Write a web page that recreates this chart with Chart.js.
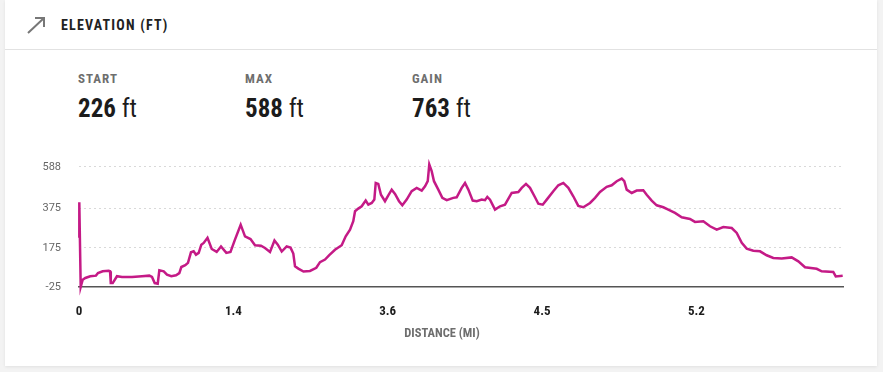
<!DOCTYPE html>
<html>
<head>
<meta charset="utf-8">
<script src="https://cdn.jsdelivr.net/npm/chart.js@4.4.1/dist/chart.umd.min.js"></script>
<style>
  body { margin: 0; background: #f3f3f3; font-family: "Roboto Condensed", "Liberation Sans Narrow", "DejaVu Sans Condensed", sans-serif; }
  .card { position: absolute; left: 5px; top: 0; width: 872px; height: 366px; background: #fff; box-shadow: 0 1px 3px rgba(0,0,0,0.08); }
  .head { position: absolute; left: 0; top: 0; width: 100%; height: 49px; border-bottom: 1px solid #e2e2e2; }
  .head svg { position: absolute; left: 21px; top: 16px; }
  .head h1 { position: absolute; left: 56px; top: 16px; margin: 0; font-size: 14px; font-weight: bold; letter-spacing: 1.2px; color: #222; line-height: 18px; }
  .stat { position: absolute; top: 71px; }
  .stat .lbl { font-size: 13px; font-weight: bold; letter-spacing: 1px; color: #6e6e6e; line-height: 16px; }
  .stat .val { margin-top: 8px; font-size: 25px; color: #1c1c1c; line-height: 28px; }
  .stat .val b { font-weight: bold; }
  .wrap { position: absolute; left: 12px; top: 137px; width: 850px; height: 208px; }
  .xtitle { position: absolute; left: 0; width: 874px; top: 325px; text-align: center; font-size: 12.5px; font-weight: bold; color: #6e6e6e; line-height: 16px; }
</style>
</head>
<body>
<div class="card">
  <div class="head">
    <svg width="20" height="19" viewBox="0 0 20 19"><path d="M2 17 L18 2 M9 2 L18 2 L18 11" fill="none" stroke="#777" stroke-width="2"/></svg>
    <h1>ELEVATION (FT)</h1>
  </div>
  <div class="stat" style="left:73px"><div class="lbl">START</div><div class="val"><b>226</b> ft</div></div>
  <div class="stat" style="left:240px"><div class="lbl">MAX</div><div class="val"><b>588</b> ft</div></div>
  <div class="stat" style="left:407px"><div class="lbl">GAIN</div><div class="val"><b>763</b> ft</div></div>
  <div class="wrap"><canvas id="elev"></canvas></div>
  <div class="xtitle">DISTANCE (MI)</div>
</div>
<script>
// position along the track (sample index) and elevation in ft
const sampleIdx = [0, 0.04, 0.22, 0.48, 0.82, 1.46, 2.2, 2.46, 3.07, 3.85, 4.02, 4.12, 4.37, 4.92, 5.57, 6.87, 8.16, 9.11, 9.46, 9.81,
  10.2, 10.41, 10.98, 11.4, 11.96, 12.57, 13.0, 13.26, 13.77, 14.12, 14.51, 14.86, 15.16, 15.51, 15.85, 16.16, 16.65, 17.2, 17.84, 18.4,
  19.09, 19.63, 20.21, 20.95, 21.51, 22.22, 22.81, 23.58, 24.1, 24.75, 25.33, 25.76, 26.27, 26.91, 27.41, 27.77, 27.99, 28.42, 29.09, 29.93,
  30.75, 31.23, 31.88, 32.43, 33.17, 34.04, 34.56, 35.12, 35.54, 35.77, 36.19, 36.63, 37.15, 37.49, 37.93, 38.27, 38.45, 38.78, 39.13, 39.65,
  40.08, 40.52, 40.95, 41.47, 41.9, 42.46, 43.11, 43.76, 44.41, 44.84, 45.19, 45.39, 45.7, 46.0, 46.56, 47.08, 47.65, 48.5, 48.94, 49.59,
  50.02, 50.45, 51.02, 51.54, 52.18, 52.61, 52.91, 53.26, 53.91, 54.56, 55.2, 56.07, 56.93, 57.37, 57.92, 58.44, 59.09, 59.52, 60.09, 60.61,
  61.46, 62.11, 62.76, 63.41, 64.05, 64.7, 65.35, 66.22, 66.87, 67.51, 68.38, 69.03, 69.68, 70.33, 70.66, 70.97, 71.62, 72.27, 73.12, 73.56,
  74.21, 74.86, 75.72, 76.36, 77.23, 78.1, 79.17, 79.82, 80.9, 81.77, 82.64, 83.49, 84.58, 85.23, 85.88, 86.52, 87.38, 88.25, 89.11, 89.97,
  91.06, 92.35, 93.21, 94.08, 95.59, 96.24, 97.74, 98.06, 98.96]
const elevation = [226, 408, -25, 12, 21, 30, 33, 46, 55, 58, 56, -5, -5, 30, 26, 26, 30, 33, 26, -5,
  -8, 60, 55, 38, 30, 35, 46, 77, 86, 98, 152, 157, 140, 149, 191, 200, 226, 169, 154, 182,
  149, 154, 217, 293, 233, 220, 188, 186, 174, 154, 212, 191, 156, 182, 176, 146, 81, 69, 54, 57,
  73, 102, 115, 138, 165, 188, 234, 268, 311, 362, 375, 387, 416, 395, 404, 421, 506, 501, 446, 413,
  443, 472, 450, 413, 392, 421, 464, 481, 467, 489, 515, 600, 566, 515, 472, 430, 418, 430, 433, 481,
  506, 472, 416, 413, 421, 418, 435, 421, 370, 387, 395, 455, 460, 481, 501, 481, 433, 400, 395, 421,
  464, 494, 506, 481, 438, 389, 382, 404, 430, 460, 486, 494, 515, 528, 515, 472, 455, 467, 469, 446,
  416, 392, 382, 370, 353, 331, 322, 307, 310, 285, 268, 281, 276, 251, 200, 171, 160, 157, 137, 123,
  120, 126, 106, 76, 68, 55, 52, 29, 33]

const yTicks = [-25, 175, 375, 588]
const xTickIdx = [0, 20, 40, 60, 80]
const xTickLabels = ["0", "1.4", "3.6", "4.5", "5.2"]

const condensed = '"Roboto Condensed", "Liberation Sans Narrow", "DejaVu Sans Condensed", sans-serif'

new Chart(document.getElementById("elev"), {
    type: "line",
    data: {
        datasets: [{
            data: sampleIdx.map((x, i) => ({ x: x, y: elevation[i] })),
            borderColor: "#c41a86",
            borderWidth: 2.5,
            pointRadius: 0,
            tension: 0,
            fill: false,
            clip: false
        }]
    },
    options: {
        responsive: true,
        maintainAspectRatio: false,
        animation: false,
        layout: { padding: { top: 0, right: 24, bottom: 24, left: 0 } },
        plugins: {
            legend: { display: false },
            tooltip: { enabled: false }
        },
        scales: {
            x: {
                type: "linear",
                min: 0,
                max: 99,
                afterBuildTicks: (axis) => { axis.ticks = xTickIdx.map(v => ({ value: v })) },
                afterFit: (axis) => { axis.height = 34 },
                ticks: {
                    padding: 17,
                    color: "#1c1c1c",
                    font: { family: condensed, size: 13, weight: "bold" },
                    callback: (v) => xTickLabels[xTickIdx.indexOf(v)]
                },
                grid: { display: false, drawTicks: false },
                border: { display: true, color: "#555", width: 1.5 }
            },
            y: {
                min: -25,
                max: 615,
                afterBuildTicks: (axis) => { axis.ticks = yTicks.map(v => ({ value: v })) },
                afterFit: (axis) => { axis.width = 62 },
                ticks: {
                    padding: 18,
                    color: "#666",
                    font: { family: "Roboto, sans-serif", size: 11 }
                },
                grid: {
                    drawTicks: false,
                    color: (ctx) => ctx.tick && ctx.tick.value === -25 ? "rgba(0,0,0,0)" : "#d9d9d9",
                    lineWidth: 1
                },
                border: { display: false, dash: [2, 3] }
            }
        }
    }
})
</script>
</body>
</html>
